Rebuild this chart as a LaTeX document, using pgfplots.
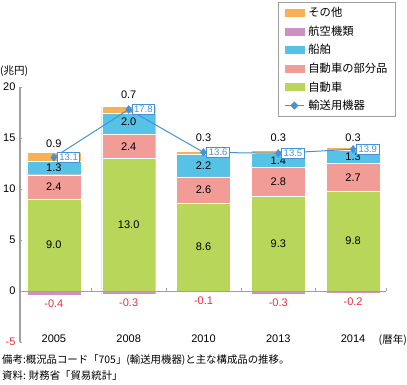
\documentclass[border=0pt]{standalone}
\usepackage{pgfplots}
\pgfplotsset{compat=1.18}
\usepackage{fontspec}
\setmainfont{Liberation Sans}
\newfontfamily\jp{Noto Sans CJK JP}
\definecolor{corange}{HTML}{F8B155}
\definecolor{cpurple}{HTML}{CE8FC3}
\definecolor{ccyan}{HTML}{56C3E6}
\definecolor{cpink}{HTML}{F29C97}
\definecolor{cgreen}{HTML}{B7D65A}
\definecolor{cblue}{HTML}{4592D6}
\definecolor{cred}{HTML}{E8303A}
\definecolor{cgray}{HTML}{A0A0A0}
\begin{document}
\begin{tikzpicture}
\path[use as bounding box] (0pt,0pt) rectangle (407pt,-384pt);
\pgfplotsset{common/.style={
  at={(20pt,-342pt)}, anchor=south west, scale only axis,
  width=366pt, height=255pt,
  xmin=-0.453, xmax=4.44, ymin=-5, ymax=20,
}}
% stacked positive components
\begin{axis}[common, ybar stacked, bar width=54pt, axis lines=none]
\addplot[fill=cgreen, draw=white, line width=0.3pt] coordinates {(0,9.0)(1,13.0)(2,8.6)(3,9.3)(4,9.8)};
\addplot[fill=cpink, draw=white, line width=0.3pt] coordinates {(0,2.4)(1,2.4)(2,2.6)(3,2.8)(4,2.7)};
\addplot[fill=ccyan, draw=white, line width=0.3pt] coordinates {(0,1.3)(1,2.0)(2,2.2)(3,1.4)(4,1.3)};
\addplot[fill=corange, draw=white, line width=0.3pt] coordinates {(0,0.9)(1,0.7)(2,0.3)(3,0.3)(4,0.3)};
\end{axis}
% axes, negative component, total line, labels
\begin{axis}[common,
  axis y line*=left, axis x line*=bottom,
  x axis line style={draw=none},
  y axis line style={cgray, line width=1.2pt},
  ytick={-5,0,5,10,15,20},
  yticklabels={\textcolor{cred}{-5},0,5,10,15,20},
  ytick style={cgray, line width=0.6pt},
  tick align=inside, major tick length=2.5pt,
  xtick={0,1,2,3,4},
  xticklabels={2005,2008,2010,2013,2014},
  x tick style={draw=none},
  xticklabel style={anchor=center, yshift=3pt},
  tick label style={font=\fontsize{11}{13}\selectfont},
  yticklabel style={xshift=-1pt},
  clip=false,
  legend style={at={(0.705,1.333)}, anchor=north west, draw=cgray, line width=0.8pt,
    font=\jp\fontsize{11.3}{13}\selectfont, row sep=3.5pt, column sep=2pt, inner xsep=6pt, inner ysep=3pt,
    cells={anchor=west}},
  legend cell align=left,
]
\addplot[ybar, bar width=54pt, bar shift=0pt, fill=cpurple, draw=white, line width=0.3pt, forget plot]
  coordinates {(0,-0.4)(1,-0.3)(2,-0.1)(3,-0.3)(4,-0.2)};
\draw[cgray, line width=0.9pt] (axis cs:-0.453,0) -- (axis cs:4.44,0);
\pgfplotsinvokeforeach{0.5,1.5,2.5,3.5,4.44}{\draw[cgray, line width=0.6pt] (axis cs:#1,0) -- ++(0pt,3pt);}
% segment labels
\addplot[draw=none, mark=none, forget plot, nodes near coords, point meta=explicit symbolic,
  nodes near coords style={anchor=center, font=\fontsize{11}{13}\selectfont, text=black}]
  coordinates {(0,4.5)[9.0] (1,6.5)[13.0] (2,4.3)[8.6] (3,4.65)[9.3] (4,4.9)[9.8]
               (0,10.2)[2.4] (1,14.2)[2.4] (2,9.9)[2.6] (3,10.7)[2.8] (4,11.15)[2.7]
               (0,12.05)[1.3] (1,16.6)[2.0] (2,12.3)[2.2] (3,12.8)[1.4] (4,13.15)[1.3]
               (0,14.4)[0.9] (1,19.2)[0.7] (2,15.0)[0.3] (3,15.0)[0.3] (4,15.0)[0.3]};
\addplot[draw=none, mark=none, forget plot, nodes near coords, point meta=explicit symbolic,
  nodes near coords style={anchor=north, font=\fontsize{11}{13}\selectfont, text=cred, yshift=-1pt}]
  coordinates {(0,-0.4)[-0.4] (1,-0.3)[-0.3] (2,-0.1)[-0.1] (3,-0.3)[-0.3] (4,-0.2)[-0.2]};
% total line
\addplot[cblue, line width=1pt, mark=diamond*, mark size=3.5pt, forget plot,
  nodes near coords, point meta=explicit symbolic,
  nodes near coords style={anchor=west, xshift=3pt, draw=cblue, line width=0.9pt, fill=white,
    text=cblue, font=\fontsize{9.5}{10}\selectfont, inner xsep=2pt, inner ysep=1.8pt}]
  coordinates {(0,13.1)[13.1] (1,17.8)[17.8] (2,13.6)[13.6] (3,13.5)[13.5] (4,13.9)[13.9]};
% legend
\addlegendimage{legend image code/.code={\fill[corange] (0pt,-3.5pt) rectangle (19pt,3.5pt);}}
\addlegendentry{その他}
\addlegendimage{legend image code/.code={\fill[cpurple] (0pt,-3.5pt) rectangle (19pt,3.5pt);}}
\addlegendentry{航空機類}
\addlegendimage{legend image code/.code={\fill[ccyan] (0pt,-3.5pt) rectangle (19pt,3.5pt);}}
\addlegendentry{船舶}
\addlegendimage{legend image code/.code={\fill[cpink] (0pt,-3.5pt) rectangle (19pt,3.5pt);}}
\addlegendentry{自動車の部分品}
\addlegendimage{legend image code/.code={\fill[cgreen] (0pt,-3.5pt) rectangle (19pt,3.5pt);}}
\addlegendentry{自動車}
\addlegendimage{legend image code/.code={\draw[cblue, line width=1pt] (0pt,0pt) -- (19pt,0pt); \fill[cblue] (9.5pt,3.5pt) -- (13pt,0pt) -- (9.5pt,-3.5pt) -- (6pt,0pt) -- cycle;}}
\addlegendentry{輸送用機器}
\end{axis}
\node[anchor=west, inner sep=0pt, font=\jp\fontsize{10.5}{12}\selectfont] at (0pt,-71pt) {(兆円)};
\node[anchor=east, inner sep=0pt, font=\jp\fontsize{10.5}{12}\selectfont] at (407pt,-340pt) {(暦年)};
\node[anchor=west, inner sep=0pt, font=\jp\fontsize{10.4}{12}\selectfont] at (2pt,-360pt) {備考:概況品コード「705」(輸送用機器)と主な構成品の推移。};
\node[anchor=west, inner sep=0pt, font=\jp\fontsize{10.4}{12}\selectfont] at (2pt,-376pt) {資料: 財務省「貿易統計」};
\end{tikzpicture}
\end{document}
